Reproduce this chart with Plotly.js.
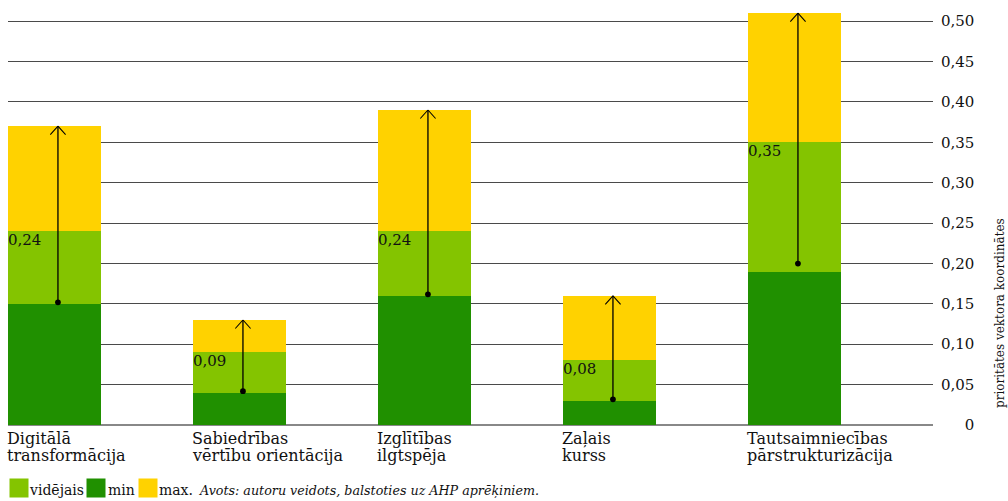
<!DOCTYPE html>
<html>
<head>
<meta charset="utf-8">
<script src="https://cdn.plot.ly/plotly-3.0.1.min.js"></script>
<style>html,body{margin:0;padding:0;background:#fff;}#chart{width:1008px;height:501px;}</style>
</head>
<body>
<div id="chart"></div>
<script>
// ---- data ----
const catLine1 = ["Digitālā", "Sabiedrības", "Izglītības", "Zaļais", "Tautsaimniecības"];
const catLine2 = ["transformācija", "vērtību orientācija", "ilgtspēja", "kurss", "pārstrukturizācija"];
const minVals = [0.15, 0.04, 0.16, 0.03, 0.19];
const avgVals = [0.24, 0.09, 0.24, 0.08, 0.35];
const maxVals = [0.37, 0.13, 0.39, 0.16, 0.51];
const arrowFrom = [0.15, 0.04, 0.16, 0.03, 0.198];
const avgLabels = ["0,24", "0,09", "0,24", "0,08", "0,35"];
const yTickVals = [0, 0.05, 0.10, 0.15, 0.20, 0.25, 0.30, 0.35, 0.40, 0.45, 0.50];
const yTickText = ["\u2007\u2008\u20070", "0,05", "0,10", "0,15", "0,20", "0,25", "0,30", "0,35", "0,40", "0,45", "0,50"];
const seriesNames = ["vidējais", "min", "max."];
const yTitle = "prioritātes vektora koordinātes";
const sourceText = "Avots: autoru veidots, balstoties uz AHP aprēķiniem.";

const colMax = "#ffd200", colAvg = "#84c400", colMin = "#209000";
const FONT = "DejaVu Serif";
const idx = catLine1.map((_, i) => i);

function barTrace(vals, name, color) {
  return {
    type: "bar", x: idx, y: vals, name: name,
    width: 0.5, offset: -0.5,
    marker: {color: color, line: {width: 0}},
    showlegend: false, hoverinfo: "skip"
  };
}

const data = [
  barTrace(maxVals, seriesNames[2], colMax),
  barTrace(avgVals, seriesNames[0], colAvg),
  barTrace(minVals, seriesNames[1], colMin)
];

const annotations = [];
idx.forEach(i => {
  const ax = i - 0.23;
  // shaft from dot (arrowFrom) to max
  annotations.push({
    x: ax, y: maxVals[i], xref: "x", yref: "y",
    ax: ax, ay: arrowFrom[i], axref: "x", ayref: "y",
    showarrow: true, arrowhead: 0, arrowwidth: 1.3,
    arrowside: "end+start", startarrowhead: 6, startarrowsize: 1.1,
    arrowcolor: "#000", text: ""
  });
  // open V head (two arms)
  [-1, 1].forEach(s => {
    annotations.push({
      x: ax, y: maxVals[i], xref: "x", yref: "y",
      ax: 9 * s, ay: 10, showarrow: true, arrowhead: 0, arrowwidth: 1.1,
      arrowcolor: "#000", text: "", standoff: 0, startstandoff: 0
    });
  });
  // avg value label
  annotations.push({
    x: i - 0.5, y: avgVals[i], xref: "x", yref: "y",
    xanchor: "left", yanchor: "top", yshift: 2, xshift: -2,
    text: avgLabels[i], showarrow: false,
    font: {family: FONT, size: 15, color: "#111"}
  });
  // category labels (two lines)
  annotations.push({
    x: i - 0.5, y: 0, xref: "x", yref: "y",
    xanchor: "left", yanchor: "top", yshift: -2, xshift: -3,
    text: catLine1[i], showarrow: false,
    font: {family: FONT, size: 16, color: "#111"}
  });
  annotations.push({
    x: i - 0.5, y: 0, xref: "x", yref: "y",
    xanchor: "left", yanchor: "top", yshift: -19, xshift: -3,
    text: catLine2[i], showarrow: false,
    font: {family: FONT, size: 16, color: "#111"}
  });
});
// right axis title
annotations.push({
  x: 1, y: (425 - 313) / 420, xref: "paper", yref: "paper", xanchor: "center", yanchor: "middle",
  xshift: 67, textangle: -90, text: yTitle, showarrow: false,
  font: {family: FONT, size: 12, color: "#111"}
});
// manual legend: colour squares + names
const legendItems = [
  {name: seriesNames[0], color: colAvg, sq: 1, tx: 19},
  {name: seriesNames[1], color: colMin, sq: 78, tx: 98},
  {name: seriesNames[2], color: colMax, sq: 130, tx: 149}
];
legendItems.forEach(it => {
  annotations.push({
    x: 0, y: 0, xref: "paper", yref: "paper", xanchor: "left", yanchor: "middle",
    xshift: it.sq, yshift: -63, text: "", width: 18, height: 18, borderpad: 0,
    bgcolor: it.color, showarrow: false
  });
  annotations.push({
    x: 0, y: 0, xref: "paper", yref: "paper", xanchor: "left", yanchor: "middle",
    xshift: it.tx, yshift: -65, text: it.name, showarrow: false,
    font: {family: FONT, size: 14, color: "#111"}
  });
});
annotations.push({
  x: 0, y: 0, xref: "paper", yref: "paper", xanchor: "left", yanchor: "middle",
  xshift: 189, yshift: -65, text: "<i>" + sourceText + "</i>", showarrow: false,
  font: {family: FONT, size: 12.7, color: "#111"}
});

const layout = {
  width: 1008, height: 501,
  margin: {l: 8, r: 75, t: 5, b: 76},
  paper_bgcolor: "#fff", plot_bgcolor: "#fff",
  barmode: "overlay", bargap: 0,
  font: {family: FONT, size: 15, color: "#111"},
  showlegend: false,
  xaxis: {
    range: [-0.5, 4.5], showticklabels: false, showgrid: false,
    zeroline: false, showline: false, ticks: "", fixedrange: true
  },
  yaxis: {
    side: "right", range: [0, 0.52],
    tickvals: yTickVals, ticktext: yTickText,
    showgrid: true, gridcolor: "#4a4a4a", gridwidth: 1,
    zeroline: true, zerolinecolor: "#888", zerolinewidth: 1.5,
    showline: false, ticks: "", ticklabelstandoff: 7,
    tickfont: {family: FONT, size: 15, color: "#111"}, fixedrange: true
  },
  annotations: annotations
};

Plotly.newPlot("chart", data, layout, {staticPlot: true, displayModeBar: false});
</script>
</body>
</html>
